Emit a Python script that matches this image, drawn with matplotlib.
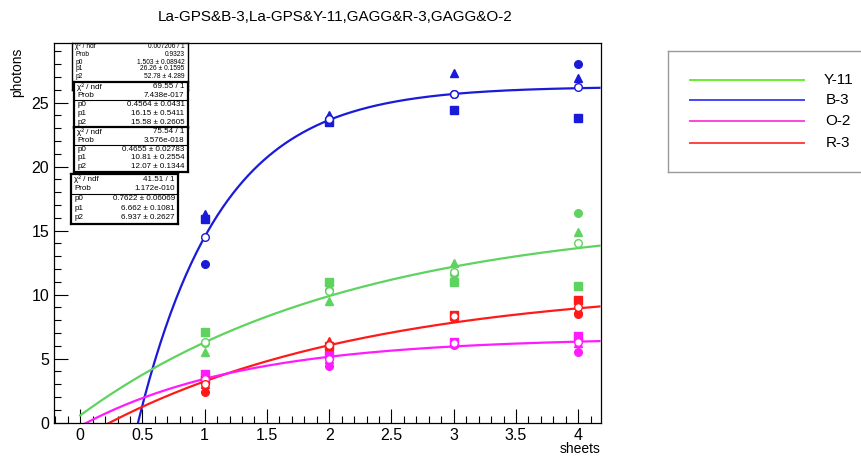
import numpy as np
import matplotlib
matplotlib.use("Agg")
import matplotlib.pyplot as plt
from matplotlib.ticker import MultipleLocator

plt.rcParams["font.family"] = ["Liberation Sans", "DejaVu Sans"]

# sheets measured
sheets = [1, 2, 3, 4]

# series: name, colour, measured values per marker type
names = ["Y-11", "B-3", "O-2", "R-3"]
colors = {"Y-11": "#5fd35f", "B-3": "#1a1ad9", "O-2": "#ff1aff", "R-3": "#ff1a1a"}
legend_colors = {"Y-11": "#66ee33", "B-3": "#4444ff", "O-2": "#ff44dd", "R-3": "#ff4444"}

circle = {
    "B-3": [12.4, 23.7, 25.7, 28.0],
    "Y-11": [6.2, 10.4, 11.6, 16.4],
    "R-3": [2.4, 6.1, 8.2, 8.5],
    "O-2": [3.1, 4.4, 6.1, 5.5],
}
triangle = {
    "B-3": [16.3, 24.0, 27.3, 26.9],
    "Y-11": [5.5, 9.5, 12.5, 14.9],
    "R-3": [3.0, 6.4, 8.3, 8.9],
    "O-2": [3.4, 5.0, 6.2, 6.2],
}
square = {
    "B-3": [15.9, 23.5, 24.4, 23.8],
    "Y-11": [7.1, 11.0, 11.0, 10.7],
    "R-3": [3.3, 6.0, 8.4, 9.6],
    "O-2": [3.8, 5.3, 6.3, 6.8],
}
open_circle = {
    "B-3": [14.5, 23.7, 25.7, 26.2],
    "Y-11": [6.3, 10.3, 11.8, 14.0],
    "R-3": [3.0, 6.1, 8.3, 9.0],
    "O-2": [3.4, 5.0, 6.2, 6.3],
}

# fit parameters f(x) = p1 - p2*exp(-p0*x), in stat-box order
fit_order = ["B-3", "Y-11", "R-3", "O-2"]
p0 = {"B-3": 1.503, "Y-11": 0.4564, "R-3": 0.4655, "O-2": 0.7622}
p1 = {"B-3": 26.26, "Y-11": 16.15, "R-3": 10.81, "O-2": 6.662}
p2 = {"B-3": 52.78, "Y-11": 15.58, "R-3": 12.07, "O-2": 6.937}
chi2 = ["0.007206 / 1", "69.55 / 1", "75.54 / 1", "41.51 / 1"]
prob = ["0.9323", "7.438e-017", "3.576e-018", "1.172e-010"]
p0_txt = ["1.503 ± 0.08942", "0.4564 ± 0.0431", "0.4655 ± 0.02783", "0.7622 ± 0.06069"]
p1_txt = ["26.26 ± 0.1595", "16.15 ± 0.5411", "10.81 ± 0.2554", "6.662 ± 0.1081"]
p2_txt = ["52.78 ± 4.289", "15.58 ± 0.2605", "12.07 ± 0.1344", "6.937 ± 0.2627"]

W, H = 862, 457
fig = plt.figure(figsize=(W / 100, H / 100), dpi=100)
ax = fig.add_axes([54 / W, 1 - 422.7 / H, (600.7 - 54) / W, (422.7 - 43) / H])

xs = np.linspace(0, 4.17, 300)
for n in fit_order:
    ax.plot(xs, p1[n] - p2[n] * np.exp(-p0[n] * xs), color=colors[n], lw=1.6, zorder=2)

for n in names:
    c = colors[n]
    ax.plot(sheets, square[n], "s", color=c, ms=5.5, zorder=3)
    ax.plot(sheets, triangle[n], "^", color=c, ms=5.5, zorder=3)
    ax.plot(sheets, circle[n], "o", color=c, ms=5.5, zorder=3)
    ax.plot(sheets, open_circle[n], "o", mfc="white", mec=c, mew=1.0, ms=5.5, zorder=4)

ax.set_xlim(-0.21, 4.18)
ax.set_ylim(0, 29.66)
ax.xaxis.set_major_locator(MultipleLocator(0.5))
ax.xaxis.set_minor_locator(MultipleLocator(0.1))
ax.yaxis.set_major_locator(MultipleLocator(5))
ax.yaxis.set_minor_locator(MultipleLocator(1))
ax.set_xticks([0, 0.5, 1, 1.5, 2, 2.5, 3, 3.5, 4])
ax.set_xticklabels(["0", "0.5", "1", "1.5", "2", "2.5", "3", "3.5", "4"])
ax.tick_params(which="both", direction="in", top=False, right=False, labelsize=11.5, colors="black")
ax.tick_params(which="major", length=10, width=0.8)
ax.tick_params(which="minor", length=5, width=0.8)
ax.tick_params(axis="x", pad=4)
for s in ax.spines.values():
    s.set_linewidth(0.9)

fig.text(335 / W, 1 - 17 / H, "La-GPS&B-3,La-GPS&Y-11,GAGG&R-3,GAGG&O-2",
         ha="center", va="center", fontsize=11)
fig.text(17 / W, 1 - 72 / H, "photons", rotation=90, ha="center", va="center", fontsize=10)
fig.text(580 / W, 1 - 449 / H, "sheets", ha="center", va="center", fontsize=10)

# stat boxes (pixel coords: left, top, right, bottom)
boxes = [(72, 43, 188, 90), (74, 82, 188, 128), (74, 127, 188, 172), (71, 174, 178, 224)]
for i, (l, t, r, b) in enumerate(boxes):
    bx = fig.add_axes([l / W, 1 - b / H, (r - l) / W, (b - t) / H])
    bx.set_xlim(0, 1)
    bx.set_ylim(b, t)
    bx.set_xticks([])
    bx.set_yticks([])
    for s in bx.spines.values():
        s.set_linewidth(1.6 if i > 0 else 1.0)
    rows = [("χ² / ndf", chi2[i]), ("Prob", prob[i]), ("p0", p0_txt[i]),
            ("p1", p1_txt[i]), ("p2", p2_txt[i])]
    if i == 0:
        fs = 4.8
        ys = [t + 4, t + 11, t + 19, t + 26, t + 33]
    else:
        fs = 5.8
        step = (b - t) / 5.2
        ys = [t + (k + 0.55) * step for k in range(5)]
        bx.axhline(t + 2.05 * step, color="black", lw=0.8)
    for (lab, val), yy in zip(rows, ys):
        bx.text(0.03, yy, lab, ha="left", va="center", fontsize=fs)
        bx.text(0.97, yy, val, ha="right", va="center", fontsize=fs)

# legend box
lg = fig.add_axes([668 / W, 1 - 172 / H, (900 - 668) / W, (172 - 51) / H])
lg.set_xlim(668, 900)
lg.set_ylim(172, 51)
lg.set_xticks([])
lg.set_yticks([])
for s in lg.spines.values():
    s.set_color("#999999")
    s.set_linewidth(1.0)
leg_y = [80, 100, 121, 143]
for n, yy in zip(names, leg_y):
    lg.plot([690, 804], [yy, yy], color=legend_colors[n], lw=1.4)
    lg.text(838, yy, n, ha="center", va="center", fontsize=11)

fig.savefig("out.png", dpi=100)
